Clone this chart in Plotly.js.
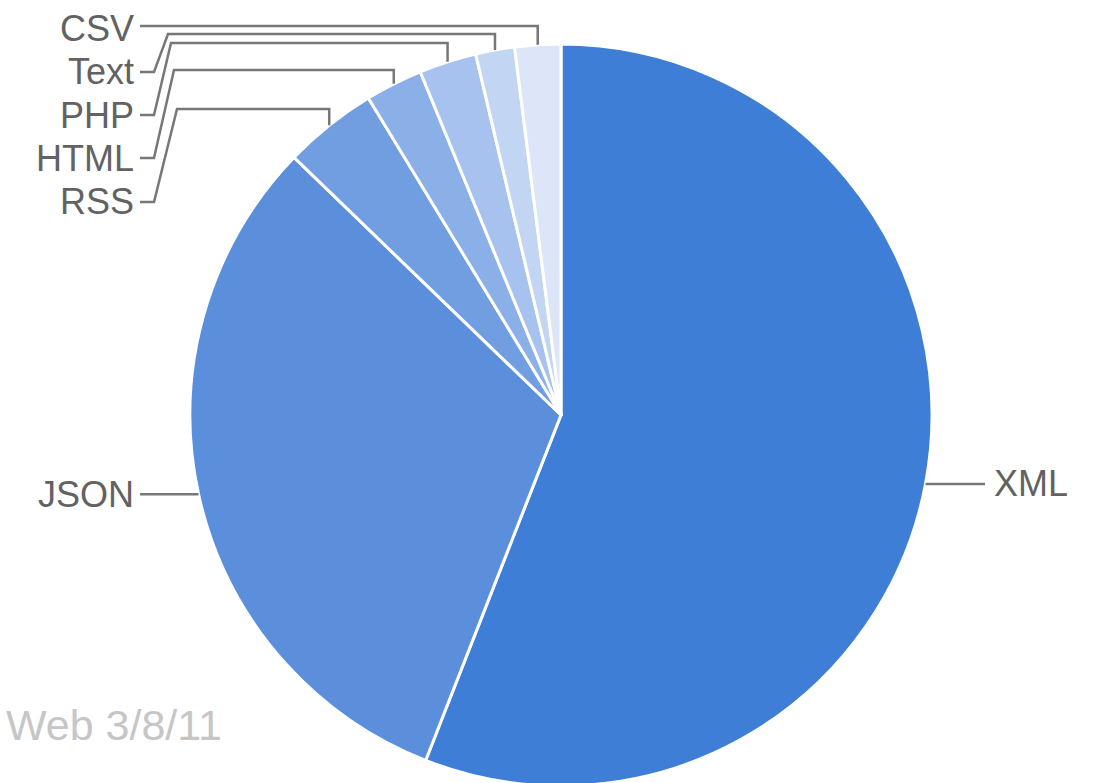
<!DOCTYPE html>
<html>
<head>
<meta charset="utf-8">
<script src="https://cdn.plot.ly/plotly-3.0.1.min.js"></script>
<style>
html,body{margin:0;padding:0;overflow:hidden;background:#fff;}
#chart{width:1093px;height:800px;}
</style>
</head>
<body>
<div id="chart"></div>
<script>
// ---- data ----
const categories = ['XML', 'JSON', 'RSS', 'HTML', 'PHP', 'Text', 'CSV'];
const shares = [56.0, 31.3, 4.1, 2.5, 2.5, 1.7, 2.0];
const sliceColors = ['#3e7ed6', '#5b8fdc', '#709ee1', '#8bafe7', '#a7c2ee', '#c2d5f3', '#dce6f8'];
const sourceNote = 'Web 3/8/11';

// ---- geometry ----
const W = 1093, H = 800;
const cx = 561, cy = 415, R = 371;
const px2x = p => p / W;
const py2y = p => 1 - p / H;

const total = shares.reduce((a, b) => a + b, 0);
let acc = 0;
const mids = shares.map(v => { const m = (acc + v / 2) / total * 360; acc += v; return m; });
const edge = deg => { const t = deg * Math.PI / 180; return [cx + R * Math.sin(t), cy - R * Math.cos(t)]; };

const labelFont = {family: 'Liberation Sans, Arial, sans-serif', size: 36, color: '#626262'};
const lineStyle = {color: '#777777', width: 2.5};

const shapes = [];
const annotations = [];
function path(pts) {
  return 'M ' + pts.map(p => px2x(p[0]) + ',' + py2y(p[1])).join(' L ');
}

// big slices: horizontal leaders
{
  const [ex, ey] = edge(mids[0]);
  shapes.push({type: 'path', xref: 'paper', yref: 'paper', path: path([[ex, ey], [985, ey]]), line: lineStyle});
  annotations.push({x: px2x(992), y: py2y(ey), xref: 'paper', yref: 'paper', xanchor: 'left', yanchor: 'middle', text: categories[0], showarrow: false, font: labelFont});
}
{
  const [ex, ey] = edge(mids[1]);
  shapes.push({type: 'path', xref: 'paper', yref: 'paper', path: path([[140, ey], [ex, ey]]), line: lineStyle});
  annotations.push({x: px2x(136), y: py2y(ey), xref: 'paper', yref: 'paper', xanchor: 'right', yanchor: 'middle', text: categories[1], showarrow: false, font: labelFont});
}

// small slices: stacked labels at the upper left with elbow leaders
const stack = {
  CSV:  {ly: 28,  level: 26,  corner: null},
  Text: {ly: 72,  level: 34,  corner: 168},
  PHP:  {ly: 115, level: 43,  corner: 171},
  HTML: {ly: 158, level: 70,  corner: 174},
  RSS:  {ly: 202, level: 109, corner: 177}
};
categories.forEach((c, i) => {
  if (i < 2) return;
  const s = stack[c];
  const [ex, ey] = edge(mids[i]);
  let pts;
  if (s.corner === null) {
    pts = [[140, s.level], [ex, s.level], [ex, ey]];
  } else {
    pts = [[140, s.ly], [154, s.ly], [s.corner, s.level], [ex, s.level], [ex, ey]];
  }
  shapes.push({type: 'path', xref: 'paper', yref: 'paper', path: path(pts), line: lineStyle});
  annotations.push({x: px2x(136), y: py2y(s.ly), xref: 'paper', yref: 'paper', xanchor: 'right', yanchor: 'middle', text: c, showarrow: false, font: labelFont});
});

annotations.push({x: px2x(224), y: py2y(725), xref: 'paper', yref: 'paper', xanchor: 'right', yanchor: 'middle', text: sourceNote, showarrow: false,
  font: {family: 'Liberation Sans, Arial, sans-serif', size: 43, color: '#c6c6c6'}});

const trace = {
  type: 'pie',
  labels: categories,
  values: shares,
  sort: false,
  direction: 'clockwise',
  rotation: 0,
  textinfo: 'none',
  hoverinfo: 'label+percent',
  marker: {colors: sliceColors, line: {color: '#ffffff', width: 3}},
  domain: {x: [px2x(cx - R), px2x(cx + R)], y: [py2y(cy + R), py2y(cy - R)]}
};

const layout = {
  width: W, height: H,
  margin: {l: 0, r: 0, t: 0, b: 0},
  paper_bgcolor: '#ffffff',
  showlegend: false,
  shapes: shapes,
  annotations: annotations
};

Plotly.newPlot('chart', [trace], layout, {displayModeBar: false, staticPlot: true});
</script>
</body>
</html>
